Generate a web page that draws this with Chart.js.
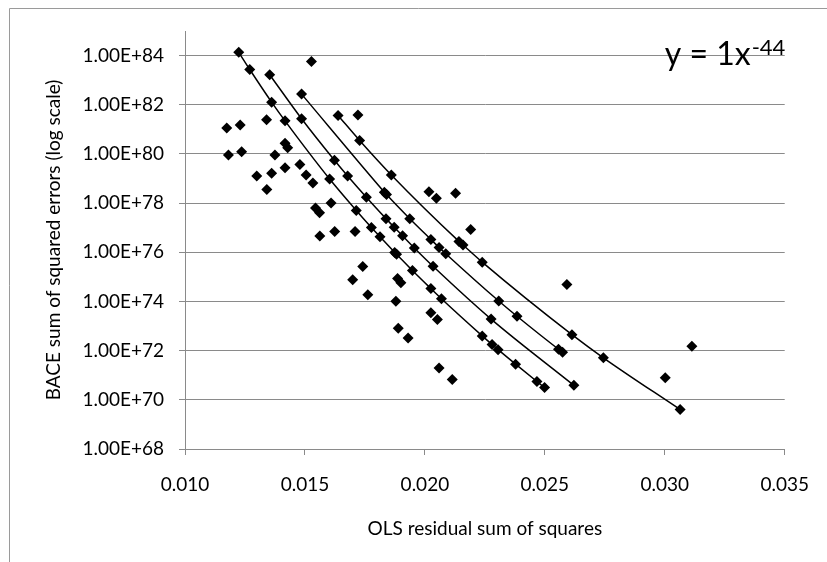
<!DOCTYPE html>
<html>
<head>
<meta charset="utf-8">
<title>BACE vs OLS</title>
<script src="https://cdn.jsdelivr.net/npm/chart.js@4.4.1/dist/chart.umd.min.js"></script>
<style>
  html, body { margin: 0; padding: 0; background: #fff; }
  #chart { display: block; }
</style>
</head>
<body>
<canvas id="chart" width="827" height="562"></canvas>
<script>
// Points lying on the four fitted curves (c = 1, 10, 100, 1000)
const fit0X = [0.01224, 0.01270, 0.01361, 0.01417, 0.01603, 0.01714, 0.01777, 0.01813, 0.01874, 0.01882, 0.01948, 0.02025, 0.02069, 0.02239, 0.02280, 0.02305, 0.02378, 0.02467, 0.02499];
const fit0Y = [1.36e84, 2.72e83, 1.28e82, 2.22e81, 9.51e78, 5.01e77, 1.02e77, 4.27e76, 9.91e75, 8.32e75, 1.81e75, 3.33e74, 1.29e74, 3.98e72, 1.77e72, 1.10e72, 2.82e71, 5.55e70, 3.14e70];

const fit1X = [0.01353, 0.01486, 0.01623, 0.01678, 0.01756, 0.01838, 0.01872, 0.01907, 0.01956, 0.02034, 0.02276, 0.02621];
const fit1Y = [1.67e83, 2.71e81, 5.58e79, 1.28e79, 1.75e78, 2.34e77, 1.04e77, 4.67e76, 1.50e76, 2.70e75, 1.92e73, 3.88e70];

const fit2X = [0.01486, 0.01831, 0.01840, 0.01937, 0.02025, 0.02059, 0.02087, 0.02308, 0.02384, 0.02557, 0.02574];
const fit2Y = [2.71e82, 2.79e78, 2.22e78, 2.31e77, 3.33e76, 1.58e76, 8.77e75, 1.04e74, 2.50e73, 1.14e72, 8.59e71];

const fit3X = [0.01638, 0.01728, 0.01860, 0.02142, 0.02159, 0.02239, 0.02613, 0.02744, 0.03064];
const fit3Y = [3.69e81, 3.53e80, 1.40e79, 2.78e76, 1.98e76, 3.98e75, 4.47e72, 5.13e71, 4.01e69];

// The remaining scattered points
const otherX = [0.01527, 0.01721, 0.01174, 0.01230, 0.01340, 0.01181, 0.01236, 0.01375, 0.01417, 0.01428,
                0.01299, 0.01361, 0.01417, 0.01479, 0.01505, 0.01533, 0.01341, 0.01609, 0.01544, 0.01561,
                0.02017, 0.02048, 0.02128, 0.02191, 0.01562, 0.01624, 0.01709, 0.01741, 0.01699, 0.01762,
                0.01886, 0.01900, 0.01879, 0.02025, 0.02052, 0.01889, 0.01930, 0.02592, 0.02059, 0.02114,
                0.03002, 0.03113];
const otherY = [5.70e83, 3.85e81, 1.14e81, 1.51e81, 2.45e81, 9.06e79, 1.24e80, 9.06e79, 2.72e80, 1.79e80,
                1.26e79, 1.63e79, 2.75e79, 3.72e79, 1.39e79, 6.56e78, 3.57e78, 1.01e78, 6.30e77, 4.06e77,
                2.90e78, 1.56e78, 2.50e78, 8.39e76, 4.57e76, 6.97e76, 6.97e76, 2.67e75, 7.66e74, 1.88e74,
                8.65e74, 5.73e74, 1.03e74, 3.44e73, 1.85e73, 8.20e72, 3.30e72, 4.93e74, 1.99e71, 6.68e70,
                7.85e70, 1.50e72];

// Axis ticks
const yTicks = [1e68, 1e70, 1e72, 1e74, 1e76, 1e78, 1e80, 1e82, 1e84];
const xMin = 0.010, xMax = 0.035, xStep = 0.005;
const yMin = 1e68, yMax = 1e85;

const xTitle = 'OLS residual sum of squares';
const yTitle = 'BACE sum of squared errors (log scale)';
const eqMain = 'y = 1x';
const eqExp = '-44';

document.addEventListener('DOMContentLoaded', () => {
    const toPoints = (xs, ys) => xs.map((x, i) => ({ x: x, y: ys[i] }));
    const AXIS_GRAY = '#8a8a8a';

    const curveStyle = {
        showLine: true,
        borderColor: '#000',
        borderWidth: 1.5,
        cubicInterpolationMode: 'monotone',
        pointStyle: 'rectRot',
        pointRadius: 5.5,
        pointBackgroundColor: '#000',
        pointBorderColor: '#000',
        pointBorderWidth: 0
    };

    // chart frame (only top and left edges are visible in the crop)
    const framePlugin = {
        id: 'frame',
        beforeDraw(chart) {
            const ctx = chart.ctx;
            ctx.save();
            ctx.fillStyle = '#fff';
            ctx.fillRect(0, 0, chart.width, chart.height);
            ctx.strokeStyle = '#9a9a9a';
            ctx.lineWidth = 1;
            ctx.beginPath();
            ctx.moveTo(9.5, chart.height);
            ctx.lineTo(9.5, 8.5);
            ctx.lineTo(chart.width, 8.5);
            ctx.stroke();
            ctx.restore();
        }
    };

    // equation label in the top right corner
    const equationPlugin = {
        id: 'equation',
        afterDraw(chart) {
            const { ctx, chartArea } = chart;
            ctx.save();
            ctx.fillStyle = '#000';
            ctx.textBaseline = 'alphabetic';
            ctx.font = '32px Lato';
            const x0 = chartArea.right - 120;
            ctx.fillText(eqMain, x0, chartArea.top + 34);
            const w = ctx.measureText(eqMain).width;
            ctx.font = '22px Lato';
            ctx.fillText(eqExp, x0 + w + 1, chartArea.top + 24);
            ctx.restore();
        }
    };

    Chart.defaults.font.family = 'Lato';
    Chart.defaults.color = '#000';

    new Chart(document.getElementById('chart'), {
        type: 'scatter',
        data: {
            datasets: [
                { data: toPoints(otherX, otherY), showLine: false, pointStyle: 'rectRot', pointRadius: 5.5,
                  pointBackgroundColor: '#000', pointBorderColor: '#000', pointBorderWidth: 0 },
                Object.assign({ data: toPoints(fit0X, fit0Y) }, curveStyle),
                Object.assign({ data: toPoints(fit1X, fit1Y) }, curveStyle),
                Object.assign({ data: toPoints(fit2X, fit2Y) }, curveStyle),
                Object.assign({ data: toPoints(fit3X, fit3Y) }, curveStyle)
            ]
        },
        options: {
            responsive: false,
            animation: false,
            devicePixelRatio: 1,
            layout: { padding: { top: 31, left: 40, right: 40, bottom: 20 } },
            plugins: {
                legend: { display: false },
                tooltip: { enabled: false }
            },
            scales: {
                x: {
                    type: 'linear',
                    min: xMin,
                    max: xMax,
                    ticks: {
                        stepSize: xStep,
                        padding: 18,
                        font: { size: 19 },
                        callback: v => v.toFixed(3)
                    },
                    grid: { drawOnChartArea: false, drawTicks: true, tickLength: 6, color: AXIS_GRAY },
                    border: { color: AXIS_GRAY, width: 1 },
                    title: { display: true, text: xTitle, font: { size: 19 }, padding: { top: 0, bottom: 2 } },
                    afterFit: scale => { scale.height = 93; }
                },
                y: {
                    type: 'logarithmic',
                    min: yMin,
                    max: yMax,
                    afterBuildTicks: scale => { scale.ticks = yTicks.map(v => ({ value: v })); },
                    ticks: {
                        padding: 15,
                        font: { size: 19 },
                        callback: v => '1.00E+' + Math.round(Math.log10(v))
                    },
                    grid: { color: AXIS_GRAY, lineWidth: 1, drawTicks: true, tickLength: 6 },
                    border: { color: AXIS_GRAY, width: 1 },
                    title: { display: true, text: yTitle, font: { size: 19 }, padding: { top: 2, bottom: 0 } },
                    afterFit: scale => { scale.width = 145; }
                }
            }
        },
        plugins: [framePlugin, equationPlugin]
    });
});
</script>
</body>
</html>
